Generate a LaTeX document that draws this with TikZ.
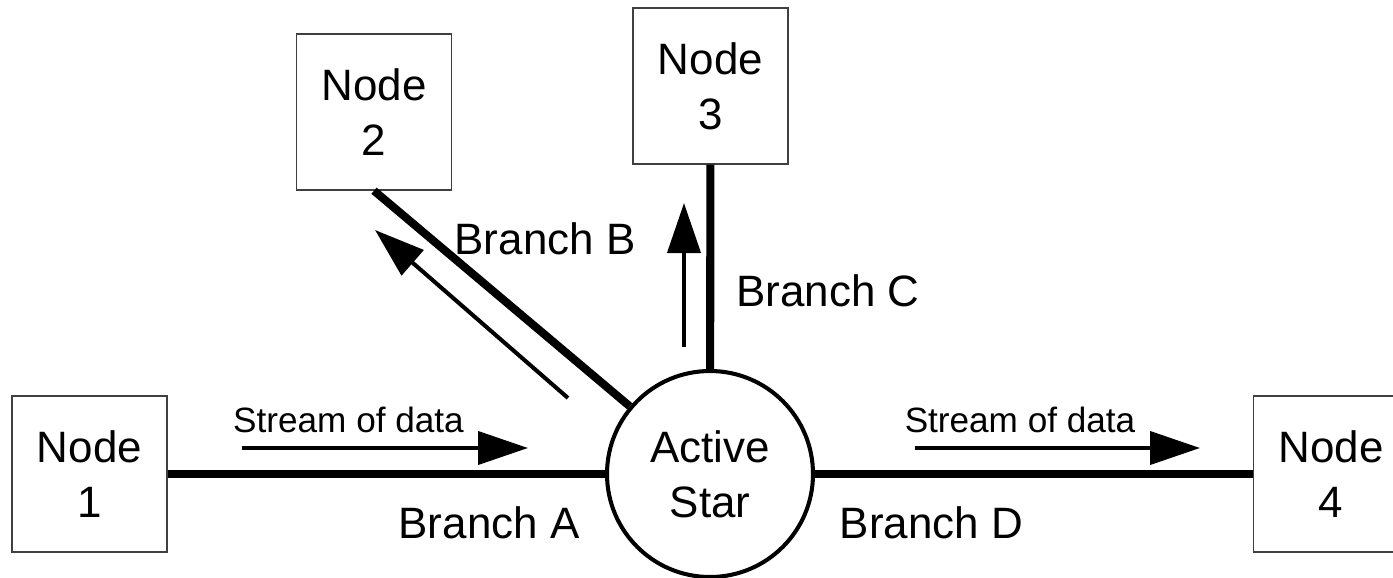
\documentclass[tikz,border=0pt]{standalone}
\usepackage{fontspec}
\setmainfont{Liberation Sans}
\usetikzlibrary{arrows.meta,positioning}
\newcommand{\bignodefont}{\fontsize{25}{31.3}\selectfont}
\newcommand{\streamfont}{\fontsize{20}{24}\selectfont}

\begin{document}
\begin{tikzpicture}[>={Triangle[length=1cm,width=0.66cm]},
  station/.style={draw=black!75,line width=0.8pt,minimum width=3.1cm,minimum height=3.12cm,align=center,font=\bignodefont},
  hub/.style={circle,draw,line width=2.3pt,minimum size=4.12cm,inner sep=0pt,align=center,font=\bignodefont},
  branch/.style={line width=4.6pt},
  flow/.style={->,line width=2.3pt},
  blabel/.style={font=\bignodefont,inner sep=0pt},
  slabel/.style={font=\streamfont,inner sep=0pt}]
  \useasboundingbox (0,0) rectangle (27.86,11.54);
  % star coupler and the four nodes
  \node[hub] (star) at (14.2,2.06) {Active\\Star};
  \node[station] (n1) at (1.79,2.06) {Node\\1};
  \node[station] (n2) at (7.48,9.30) {Node\\2};
  \node[station] (n3) at (14.21,9.82) {Node\\3};
  \node[station] (n4) at (26.62,2.06) {Node\\4};
  % branches
  \draw[branch] (n1) -- (star);
  \draw[branch] (star) -- (n2.south);
  \draw[branch] (star) -- (n3);
  \draw[branch] (star) -- (n4);
  \node[blabel] (labA) at (9.78,1.08) {Branch A};
  \node[blabel] (labB) at (10.9,6.76) {Branch B};
  \node[blabel] (labC) at (16.56,5.72) {Branch C};
  \node[blabel] (labD) at (18.63,1.08) {Branch D};
  % data direction
  \coordinate (a1) at (4.84,2.58);
  \coordinate (a2) at (10.56,2.58);
  \coordinate (d1) at (18.3,2.58);
  \coordinate (d2) at (24.0,2.58);
  \coordinate (b1) at (11.36,3.58);
  \coordinate (b2) at (7.5,6.94);
  \coordinate (c1) at (13.68,4.6);
  \coordinate (c2) at (13.68,7.48);
  \draw[flow] (a1) -- (a2);
  \draw[flow] (d1) -- (d2);
  \draw[flow] (b1) -- (b2);
  \draw[flow] (c1) -- (c2);
  \node[slabel] (sA) at (6.97,3.14) {Stream of data};
  \node[slabel] (sD) at (20.4,3.14) {Stream of data};
\end{tikzpicture}
\end{document}
